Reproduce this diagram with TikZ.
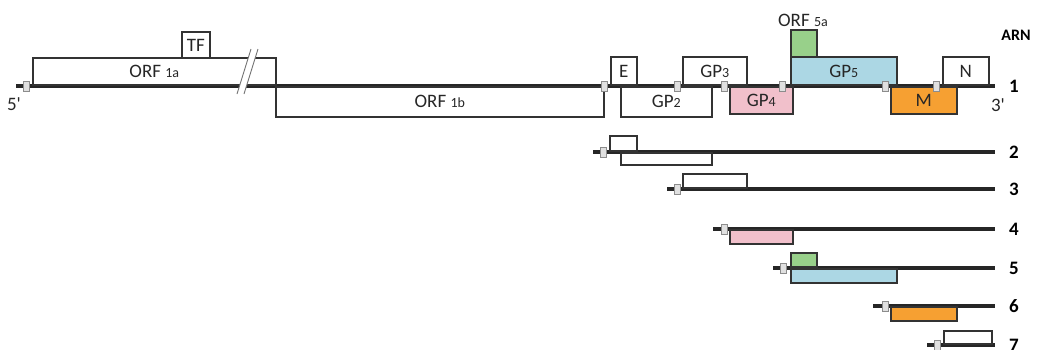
\documentclass[tikz,border=0pt]{standalone}
\usepackage{fontspec}
\setmainfont{Carlito}
\usetikzlibrary{positioning}
\definecolor{orfgreen}{RGB}{152,208,138}
\definecolor{orfpink}{RGB}{241,192,203}
\definecolor{orfblue}{RGB}{172,215,228}
\definecolor{orforange}{RGB}{246,160,50}
\newcommand{\smallnum}[1]{{\fontsize{14}{14}\selectfont #1}}

\begin{document}
\begin{tikzpicture}[x=1pt,y=-1pt,
  every node/.style={font=\fontsize{19}{20}\selectfont,text=black!85},
  orf/.style={draw=black!80,line width=1.6pt,inner sep=0pt},
  up/.style={orf,anchor=south west},
  down/.style={orf,anchor=north west},
  rna/.style={line width=4pt,black!85},
  cap node/.style={draw=black!45,fill=black!12,line width=0.8pt,minimum width=6pt,minimum height=10pt,inner sep=0pt},
  num/.style={font=\fontsize{19}{20}\selectfont\bfseries,text=black}]

  \useasboundingbox (0,0) rectangle (1037,349);

  % RNA lines
  \foreach \n/\xs/\y in {1/16/86,2/593/152,3/667/189,4/713/229,5/773/268,6/873/306,7/927/345} {
    \coordinate (s\n) at (\xs,\y);
    \coordinate (e\n) at (995,\y);
    \draw[rna] (s\n) -- (e\n);
    \node[num] (r\n) at (1014,\y) {\n};
  }

  % genomic RNA
  \node[up,minimum width=243pt,minimum height=27pt] (orf1a) at (32,86) {ORF \smallnum{1a}};
  \node[up,minimum width=28pt,minimum height=26pt] (tf) at (181,59) {TF};
  \node[down,minimum width=328pt,minimum height=30pt] (orf1b) at (275,86) {ORF \smallnum{1b}};
  \node[up,minimum width=26pt,minimum height=28pt] (e) at (610,86) {E};
  \node[down,minimum width=91pt,minimum height=30pt] (gp2) at (620,86) {GP\smallnum{2}};
  \node[up,minimum width=64pt,minimum height=28pt] (gp3) at (682,86) {GP\smallnum{3}};
  \node[down,fill=orfpink,minimum width=63pt,minimum height=27pt] (gp4) at (729,86) {GP\smallnum{4}};
  \node[up,fill=orfblue,minimum width=106pt,minimum height=28pt] (gp5) at (790,86) {GP\smallnum{5}};
  \node[up,fill=orfgreen,minimum width=26pt,minimum height=27pt] (orf5a) at (790,58) {};
  \node[down,fill=orforange,minimum width=66pt,minimum height=27pt] (m) at (890,86) {M};
  \node[up,minimum width=46pt,minimum height=28pt] (n) at (942,86) {N};
  \node (orf5alab) at (803,20) {ORF \smallnum{5a}};

  % break
  \fill[white] (251,49) -- (258,49) -- (244,94) -- (237,94) -- cycle;
  \draw[black!55,line width=0.9pt] (251,49) -- (237,94) (258,49) -- (244,94);

  % subgenomic RNAs
  \node[up,minimum width=27pt,minimum height=15pt] (e2) at (609,152) {};
  \node[down,minimum width=91pt,minimum height=12pt] (gp22) at (620,152) {};
  \node[up,minimum width=64pt,minimum height=14pt] (gp33) at (682,189) {};
  \node[down,fill=orfpink,minimum width=63pt,minimum height=14pt] (gp44) at (729,229) {};
  \node[up,fill=orfgreen,minimum width=26pt,minimum height=14pt] (orf5a5) at (790,268) {};
  \node[down,fill=orfblue,minimum width=106pt,minimum height=14pt] (gp55) at (790,268) {};
  \node[down,fill=orforange,minimum width=66pt,minimum height=14pt] (m6) at (890,306) {};
  \node[up,minimum width=48pt,minimum height=13pt] (n7) at (943,345) {};

  % leaders
  \foreach \x/\y [count=\i] in {26/86,604/86,677/86,724/86,782/86,885/86,936/86,
      603/152,677/189,724/229,783/268,885/306,937/345}
    \node[cap node] (c\i) at (\x,\y) {};

  \node (five) at (14,104) {5\textquotesingle};
  \node (three) at (998,105) {3\textquotesingle};
  \node[font=\fontsize{16}{17}\selectfont\bfseries,text=black] (arn) at (1016,35) {ARN};
\end{tikzpicture}
\end{document}
